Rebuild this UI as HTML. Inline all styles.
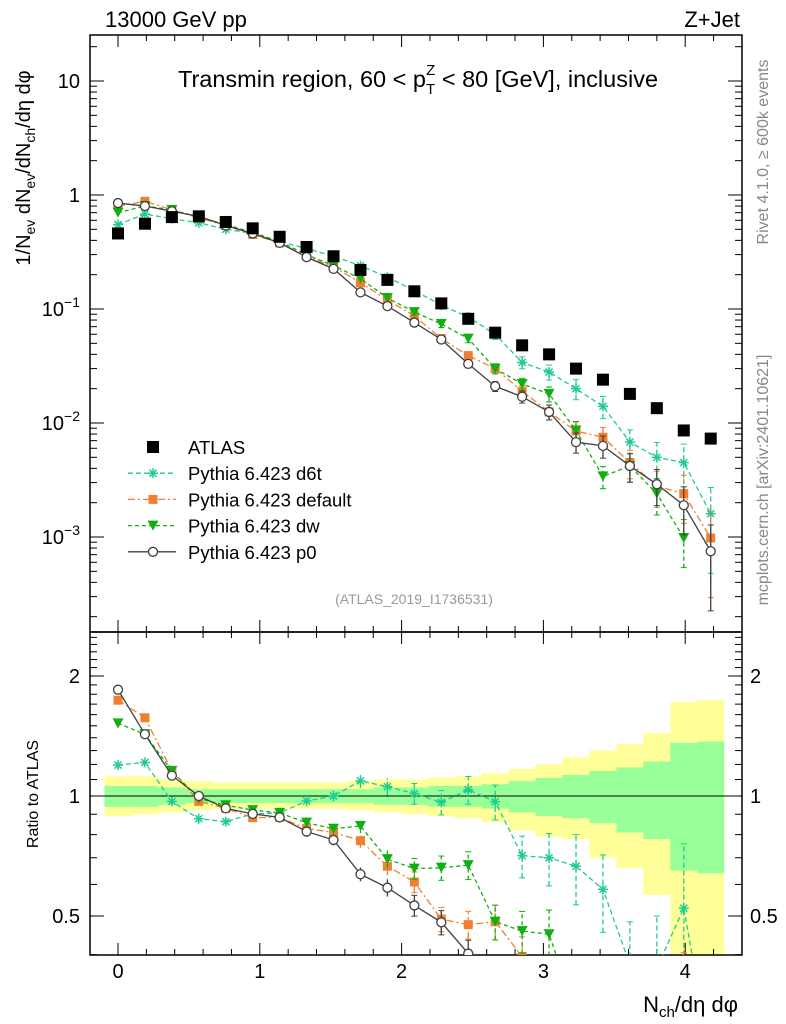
<!DOCTYPE html>
<html><head><meta charset="utf-8">
<style>
html,body{margin:0;padding:0;background:#fff;overflow:hidden;}
svg{display:block;font-family:"Liberation Sans",sans-serif;}
</style></head>
<body>
<svg id="chart" width="786" height="1024" viewBox="0 0 786 1024"></svg>
<script>
const xs = [0,0.19,0.38,0.57,0.76,0.95,1.14,1.33,1.52,1.71,1.9,2.09,2.28,2.47,2.66,2.85,3.04,3.23,3.42,3.61,3.8,3.99,4.18];
const atlas = [0.46,0.56,0.64,0.65,0.58,0.51,0.43,0.35,0.29,0.22,0.18,0.143,0.112,0.082,0.062,0.048,0.040,0.030,0.024,0.018,0.0135,0.0086,0.0073];
const d6t = [0.55,0.68,0.62,0.57,0.50,0.46,0.39,0.34,0.29,0.24,0.19,0.145,0.108,0.085,0.060,0.034,0.028,0.020,0.0140,0.0068,0.0050,0.0045,0.0016];
const dflt = [0.80,0.88,0.74,0.63,0.54,0.45,0.38,0.29,0.235,0.170,0.120,0.087,0.055,0.039,0.030,0.019,0.0125,0.0085,0.0075,0.0045,0.0028,0.0024,0.00098];
const dw = [0.70,0.80,0.74,0.64,0.55,0.47,0.39,0.30,0.24,0.185,0.125,0.094,0.074,0.055,0.030,0.022,0.018,0.0086,0.0034,0.0042,0.0024,0.00098,null];
const p0 = [0.85,0.80,0.72,0.65,0.54,0.46,0.38,0.285,0.225,0.140,0.106,0.076,0.054,0.033,0.021,0.017,0.0125,0.0068,0.0063,0.0042,0.0029,0.0019,0.00075];
const relErr = [0.02,0.02,0.02,0.02,0.02,0.02,0.03,0.03,0.03,0.04,0.05,0.06,0.07,0.08,0.1,0.12,0.15,0.2,0.22,0.28,0.35,0.45,0.7];
const yelUp = [1.12,1.12,1.10,1.09,1.08,1.08,1.08,1.08,1.08,1.09,1.10,1.10,1.11,1.12,1.14,1.17,1.20,1.25,1.30,1.35,1.44,1.72,1.74];
const yelDn = [0.89,0.90,0.91,0.92,0.93,0.93,0.93,0.93,0.93,0.92,0.91,0.90,0.89,0.88,0.86,0.82,0.79,0.78,0.70,0.66,0.565,0.3,0.3];
const grnUp = [1.06,1.06,1.05,1.04,1.04,1.04,1.04,1.04,1.04,1.04,1.05,1.05,1.06,1.06,1.07,1.09,1.11,1.13,1.155,1.18,1.22,1.36,1.37];
const grnDn = [0.94,0.94,0.95,0.96,0.96,0.96,0.96,0.96,0.96,0.96,0.95,0.95,0.94,0.94,0.93,0.91,0.89,0.88,0.855,0.81,0.78,0.65,0.64];
const xTicks = ["0","1","2","3","4"];

const NS="http://www.w3.org/2000/svg";
const svg=document.getElementById('chart');
function el(t,a,p){const e=document.createElementNS(NS,t);for(const k in a)e.setAttribute(k,a[k]);(p||svg).appendChild(e);return e;}
const L=90,R=742,T1=35,B1=632,B2=955;
const X=v=>118+v*141.8;
const Y=v=>195-Math.log10(v)*114;
const YR=v=>796-Math.log2(v)*120;
const clip1=el('clipPath',{id:'c1'});el('rect',{x:L,y:T1,width:R-L,height:B1-T1},clip1);
const clip2=el('clipPath',{id:'c2'});el('rect',{x:L,y:B1,width:R-L,height:B2-B1},clip2);

const gB=el('g',{'clip-path':'url(#c2)'});

function band(up,dn,col,name){let d='';xs.forEach((x,i)=>{const a=X(x)-13.5,b=X(x)+13.5;d+=`M${a},${YR(up[i])}H${b}V${YR(dn[i])}H${a}Z`;});const p=el('path',{d:d,fill:col},gB);}
band(yelUp,yelDn,'#ffff99','syst-band');band(grnUp,grnDn,'#99ff99','stat-band');
el('line',{x1:L,x2:R,y1:796,y2:796,stroke:'#000','stroke-width':1});

el('rect',{x:L,y:T1,width:R-L,height:B1-T1,fill:'none',stroke:'#000','stroke-width':1.5});
el('rect',{x:L,y:B1,width:R-L,height:B2-B1,fill:'none',stroke:'#000','stroke-width':1.5});

for(let v=-0.2;v<=4.4;v+=0.2){const x=X(Math.round(v*10)/10);if(x<L||x>R)continue;const maj=Math.abs(v-Math.round(v))<0.01;const h=maj?12:6;
 [B1,B2].forEach(y=>{el('line',{x1:x,x2:x,y1:y,y2:y-h,stroke:'#000'});});
 el('line',{x1:x,x2:x,y1:T1,y2:T1+h,stroke:'#000'});el('line',{x1:x,x2:x,y1:B1,y2:B1+h,stroke:'#000'});}
xTicks.forEach(t=>{const e=el('text',{x:X(+t),y:978,'font-size':20,'text-anchor':'middle'});e.textContent=t;});
const xt=el('text',{x:738,y:1012,'font-size':22,'text-anchor':'end'});xt.innerHTML='N<tspan font-size="15" dy="5">ch</tspan><tspan dy="-5">/dη dφ</tspan>';

for(let e=-4;e<=1;e++){for(let m=1;m<10;m++){const v=m*Math.pow(10,e);const y=Y(v);if(y<T1||y>B1)continue;const h=m==1?14:7;
 el('line',{x1:L,x2:L+h,y1:y,y2:y,stroke:'#000'});el('line',{x1:R,x2:R-h,y1:y,y2:y,stroke:'#000'});}}
[[10,'10'],[1,'1']].forEach(([v,s])=>{const t=el('text',{x:80,y:Y(v)+7,'font-size':20,'text-anchor':'end'});t.textContent=s;});
[-1,-2,-3].forEach(e=>{const t=el('text',{x:80,y:Y(Math.pow(10,e))+7,'font-size':20,'text-anchor':'end'});t.innerHTML='10<tspan font-size="14" dy="-9">−'+(-e)+'</tspan>';});
const yt=el('text',{transform:'translate(30,168) rotate(-90)','font-size':20,'text-anchor':'middle'});
yt.innerHTML='1/N<tspan font-size="14" dy="5">ev</tspan><tspan dy="-5"> dN</tspan><tspan font-size="14" dy="5">ev</tspan><tspan dy="-5">/dN</tspan><tspan font-size="14" dy="5">ch</tspan><tspan dy="-5">/dη dφ</tspan>';


[0.4,0.5,0.6,0.7,0.8,0.9,1,1.1,1.2,1.3,1.4,1.5,1.6,1.7,1.8,1.9,2,2.1,2.2,2.3,2.4,2.5].forEach(v=>{const y=YR(v);if(y<B1||y>B2)return;const h=(v==0.5||v==1||v==2)?14:7;
 el('line',{x1:L,x2:L+h,y1:y,y2:y,stroke:'#000'});el('line',{x1:R,x2:R-h,y1:y,y2:y,stroke:'#000'});});
[[2,'2'],[1,'1'],[0.5,'0.5']].forEach(([v,s])=>{let t=el('text',{x:80,y:YR(v)+7,'font-size':20,'text-anchor':'end'});t.textContent=s;
 t=el('text',{x:750,y:YR(v)+7,'font-size':20});t.textContent=s;});
const rt=el('text',{transform:'translate(38,794) rotate(-90)','font-size':16,'text-anchor':'middle'});rt.textContent='Ratio to ATLAS';

function txt(x,y,s,fs,a,fill,name,tr){const t=el('text',{x:x,y:y,'font-size':fs,'text-anchor':a||'start',fill:fill||'#000'});if(tr)t.setAttribute('transform',tr);t.innerHTML=s;return t;}
txt(105,27,'13000 GeV pp',22,'start','#000','energy-label');
txt(740,27,'Z+Jet',22,'end','#000','process-label');
txt(418,87,'Transmin region, 60 &lt; p<tspan font-size="15" dy="7">T</tspan><tspan font-size="15" dx="-9" dy="-19">Z</tspan><tspan dy="12"> &lt; 80 [GeV], inclusive</tspan>',23.5,'middle','#000','plot-title');
txt(414,604,'(ATLAS_2019_I1736531)',14,'middle','#999','analysis-id');
txt(0,0,'Rivet 4.1.0, ≥ 600k events',16,'middle','#888','rivet-label','translate(768,152) rotate(-90)');
txt(0,0,'mcplots.cern.ch [arXiv:2401.10621]',16,'middle','#888','mcplots-label','translate(768,480) rotate(-90)');

function marker(g,type,x,y,c){
 if(type=='sq')el('rect',{x:x-6,y:y-6,width:12,height:12,fill:c},g);
 else if(type=='osq')el('rect',{x:x-4.5,y:y-4.5,width:9,height:9,fill:c},g);
 else if(type=='tri')el('path',{d:`M${x-5.5},${y-5}L${x+5.5},${y-5}L${x},${y+5}Z`,fill:c},g);
 else if(type=='circ')el('circle',{cx:x,cy:y,r:4.5,fill:'#fff',stroke:c,'stroke-width':1.3},g);
 else if(type=='star'){for(let k=0;k<4;k++){const a=k*Math.PI/4;el('line',{x1:x-5*Math.cos(a),y1:y-5*Math.sin(a),x2:x+5*Math.cos(a),y2:y+5*Math.sin(a),stroke:c,'stroke-width':1.5},g);}}
}
function series(vals,ratio,type,c,dash,name){
 const gm=el('g',{'clip-path':ratio?'url(#c2)':'url(#c1)'});
 const yf=v=>ratio?YR(v):Y(v);
 const pts=[];vals.forEach((v,i)=>{if(v==null)return;const r=ratio?v/atlas[i]:v;pts.push([X(xs[i]),yf(r),r,i]);});
 if(dash!==null){el('polyline',{points:pts.map(p=>p[0]+','+p[1]).join(' '),fill:'none',stroke:c,'stroke-width':1.3,'stroke-dasharray':dash},gm);}
 pts.forEach(p=>{if(dash!==null){const e=relErr[p[3]];const lo=Math.max(p[2]*(1-e),1e-5),hi=p[2]*(1+e);
   el('line',{x1:p[0],x2:p[0],y1:yf(lo),y2:yf(hi),stroke:c,'stroke-width':1.3,'stroke-dasharray':dash},gm);
   if(e>0.05){el('line',{x1:p[0]-3,x2:p[0]+3,y1:yf(lo),y2:yf(lo),stroke:c},gm);el('line',{x1:p[0]-3,x2:p[0]+3,y1:yf(hi),y2:yf(hi),stroke:c},gm);}}
  marker(gm,type,p[0],p[1],c);});
}
const C6='#20cc90',CD='#f08030',CW='#10b010',CP='#404040';
[[d6t,'star',C6,'5,3','series-d6t'],[dflt,'osq',CD,'7,3,2,3','series-default'],[dw,'tri',CW,'4,3','series-dw'],[p0,'circ',CP,'','series-p0']].forEach(s=>{series(s[0],false,s[1],s[2],s[3],s[4]);series(s[0],true,s[1],s[2],s[3],s[4]);});
series(atlas,false,'sq','#000',null,'series-atlas');

const leg=[['ATLAS','sq','#000',null],['Pythia 6.423 d6t','star',C6,'5,3'],['Pythia 6.423 default','osq',CD,'7,3,2,3'],['Pythia 6.423 dw','tri',CW,'4,3'],['Pythia 6.423 p0','circ',CP,'']];
leg.forEach((l,i)=>{const y=447+i*26.2;const g=el('g',{});
 if(l[3]!==null)el('line',{x1:128,x2:176,y1:y,y2:y,stroke:l[2],'stroke-width':1.3,'stroke-dasharray':l[3]},g);
 marker(g,l[1],153,y,l[2]);const t=el('text',{x:188,y:y+7,'font-size':18.5},g);t.textContent=l[0];});
</script>
</body></html>
